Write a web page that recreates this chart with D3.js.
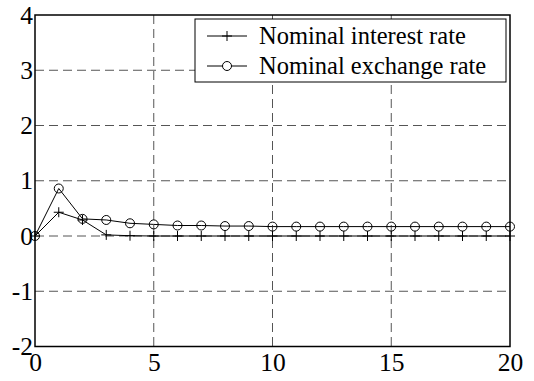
<!DOCTYPE html>
<html>
<head>
<meta charset="utf-8">
<script src="https://cdn.jsdelivr.net/npm/d3@7"></script>
<style>
  html, body { margin: 0; padding: 0; background: #fff; }
  svg { display: block; }
  text { font-family: "Liberation Serif", "Times New Roman", serif; fill: #000; }
</style>
</head>
<body>
<svg id="chart" width="534" height="381"></svg>
<script>
const periods = d3.range(0, 21);
const interestRate = [0, 0.43, 0.29, 0.02, 0.005, 0, 0, 0, 0, 0, 0, 0, 0, 0, 0, 0, 0, 0, 0, 0, 0];
const exchangeRate = [0, 0.86, 0.31, 0.29, 0.23, 0.21, 0.19, 0.19, 0.18, 0.18, 0.17, 0.17, 0.17, 0.17, 0.17, 0.17, 0.17, 0.17, 0.17, 0.17, 0.17];
const xTicks = [0, 5, 10, 15, 20];
const yTicks = [-2, -1, 0, 1, 2, 3, 4];
const seriesNames = ["Nominal interest rate", "Nominal exchange rate"];

const svg = d3.select("#chart");
const L = 35, R = 510, T = 15, B = 346.5;
const x = d3.scaleLinear().domain([0, 20]).range([L, R]);
const y = d3.scaleLinear().domain([-2, 4]).range([B, T]);
const fmt = d => String(d);

// grid
const grid = svg.append("g");
grid.selectAll("line.v").data(xTicks.filter(d => d > 0 && d < 20)).join("line")
  .attr("x1", d => x(d)).attr("x2", d => x(d)).attr("y1", T).attr("y2", B)
  .attr("stroke", "#555").attr("stroke-width", 1).attr("stroke-dasharray", "9,5");
grid.selectAll("line.h").data(yTicks.filter(d => d > -2 && d < 4)).join("line")
  .attr("x1", L).attr("x2", R).attr("y1", d => y(d)).attr("y2", d => y(d))
  .attr("stroke", "#555").attr("stroke-width", 1).attr("stroke-dasharray", "9,5");

// axes using d3 axes (labels), ticks hidden
const xAxis = svg.append("g").attr("transform", `translate(0,${B})`)
  .call(d3.axisBottom(x).tickValues(xTicks).tickSize(0).tickPadding(6).tickFormat(fmt));
xAxis.select(".domain").remove();
xAxis.selectAll("text").attr("font-size", 25.5).attr("font-family", "Liberation Serif").attr("fill", "#000");

const yAxis = svg.append("g").attr("transform", `translate(${L},0)`)
  .call(d3.axisLeft(y).tickValues(yTicks).tickSize(0).tickPadding(2).tickFormat(fmt));
yAxis.select(".domain").remove();
yAxis.selectAll("text").attr("font-size", 25.5).attr("font-family", "Liberation Serif").attr("fill", "#000");

// series
const line = d3.line().x((d, i) => x(periods[i])).y(d => y(d));
svg.append("path").datum(interestRate).attr("d", line)
  .attr("fill", "none").attr("stroke", "#000").attr("stroke-width", 1);
svg.append("path").datum(exchangeRate).attr("d", line)
  .attr("fill", "none").attr("stroke", "#000").attr("stroke-width", 1);

const plusSize = 5;
svg.append("g").selectAll("path").data(interestRate).join("path")
  .attr("d", (d, i) => {
    const cx = x(periods[i]), cy = y(d);
    return `M${cx - plusSize},${cy}H${cx + plusSize}M${cx},${cy - plusSize}V${cy + plusSize}`;
  })
  .attr("stroke", "#000").attr("stroke-width", 1).attr("fill", "none");
svg.append("g").selectAll("circle").data(exchangeRate).join("circle")
  .attr("cx", (d, i) => x(periods[i])).attr("cy", d => y(d)).attr("r", 4.5)
  .attr("fill", "none").attr("stroke", "#000").attr("stroke-width", 1);

// frame
svg.append("rect").attr("x", L).attr("y", T).attr("width", R - L).attr("height", B - T)
  .attr("fill", "none").attr("stroke", "#000").attr("stroke-width", 1.5);

// legend
const lg = svg.append("g");
lg.append("rect").attr("x", 195).attr("y", 19).attr("width", 311).attr("height", 63)
  .attr("fill", "#fff").attr("stroke", "#000").attr("stroke-width", 1);
const rows = [36, 66];
seriesNames.forEach((name, i) => {
  const cy = rows[i];
  lg.append("line").attr("x1", 207).attr("x2", 247).attr("y1", cy).attr("y2", cy)
    .attr("stroke", "#000").attr("stroke-width", 1);
  if (i === 0) {
    lg.append("path").attr("d", `M${227 - 5},${cy}H${227 + 5}M227,${cy - 5}V${cy + 5}`)
      .attr("stroke", "#000").attr("stroke-width", 1);
  } else {
    lg.append("circle").attr("cx", 227).attr("cy", cy).attr("r", 4.5)
      .attr("fill", "#fff").attr("stroke", "#000").attr("stroke-width", 1);
  }
  lg.append("text").attr("x", 259).attr("y", cy + 7.5).attr("font-size", 24.5).text(name);
});
</script>
</body>
</html>
